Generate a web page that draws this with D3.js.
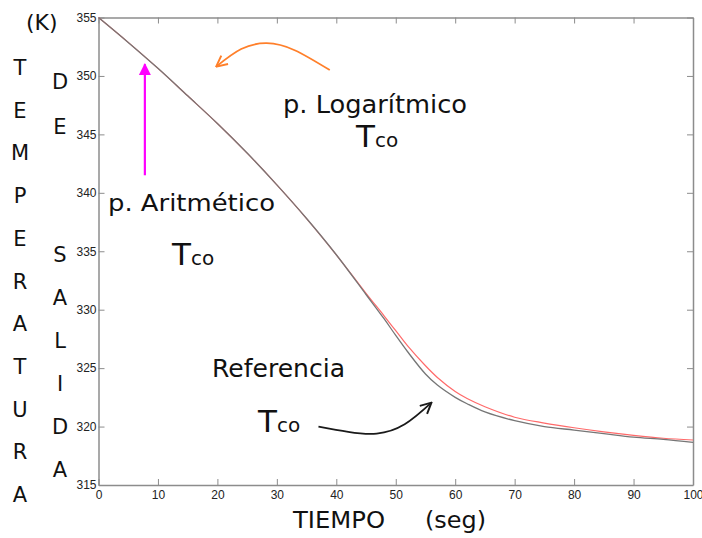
<!DOCTYPE html>
<html>
<head>
<meta charset="utf-8">
<script src="https://cdn.jsdelivr.net/npm/d3@7"></script>
<style>
  body { margin: 0; background: #fff; }
  svg text { font-family: "DejaVu Sans", sans-serif; }
</style>
</head>
<body>
<div id="chart"></div>
<script>
// Time axis (seg) and the two curves
const tiempo = [0, 5, 10, 15, 20, 25, 30, 35, 40, 45, 48, 50, 52, 55, 57, 60, 62, 65, 70, 75, 80, 85, 90, 95, 100];
const referencia = [355.0, 352.87, 350.65, 348.3, 345.93, 343.4, 340.68, 337.8, 334.7, 331.3, 329.25, 327.8, 326.4, 324.5, 323.55, 322.5, 321.95, 321.25, 320.5, 320.0, 319.7, 319.4, 319.1, 318.9, 318.65];
const logaritmico = [355.0, 352.87, 350.65, 348.3, 345.93, 343.4, 340.68, 337.8, 334.7, 331.4, 329.5, 328.2, 326.9, 325.2, 324.2, 323.0, 322.4, 321.7, 320.8, 320.3, 319.9, 319.55, 319.25, 319.0, 318.85];

const xTicks = [0, 10, 20, 30, 40, 50, 60, 70, 80, 90, 100];
const yTicks = [315, 320, 325, 330, 335, 340, 345, 350, 355];

const width = 702, height = 538;
const margin = { top: 17.5, right: 9, bottom: 53, left: 98.5 };

const svg = d3.select("#chart")
  .append("svg")
  .attr("width", width)
  .attr("height", height);

const x = d3.scaleLinear().domain([0, 100]).range([margin.left, width - margin.right]);
const y = d3.scaleLinear().domain([315, 355]).range([height - margin.bottom, margin.top]);

const axisColor = "#8c8c8c";

// Axes with inward ticks on all four sides
const gx = svg.append("g")
  .attr("transform", `translate(0,${y(315)})`)
  .call(d3.axisBottom(x).tickValues(xTicks).tickSizeInner(-6).tickSizeOuter(0).tickPadding(5));
const gxTop = svg.append("g")
  .attr("transform", `translate(0,${y(355)})`)
  .call(d3.axisTop(x).tickValues(xTicks).tickSizeInner(-6).tickSizeOuter(0).tickFormat(""));
const gy = svg.append("g")
  .attr("transform", `translate(${x(0)},0)`)
  .call(d3.axisLeft(y).tickValues(yTicks).tickSizeInner(-6).tickSizeOuter(0).tickPadding(5));
const gyRight = svg.append("g")
  .attr("transform", `translate(${x(100)},0)`)
  .call(d3.axisRight(y).tickValues(yTicks).tickSizeInner(-6).tickSizeOuter(0).tickFormat(""));

[gx, gxTop, gy, gyRight].forEach((g) => {
  g.select(".domain").attr("stroke", axisColor).attr("stroke-width", 1.5);
  g.selectAll(".tick line").attr("stroke", axisColor);
  g.selectAll(".tick text")
    .attr("fill", "#222")
    .style("font-family", "'Liberation Sans', Arial, sans-serif")
    .style("font-size", "12px");
});
gy.selectAll(".tick text").attr("dx", "3");

// Curves
const line = d3.line()
  .x((d, i) => x(tiempo[i]))
  .y((d) => y(d))
  .curve(d3.curveCatmullRom.alpha(0.5));

svg.append("path")
  .datum(logaritmico)
  .attr("fill", "none")
  .attr("stroke", "#ff6a6a")
  .attr("stroke-width", 1.2)
  .attr("d", line);

svg.append("path")
  .datum(referencia)
  .attr("fill", "none")
  .attr("stroke", "#767676")
  .attr("stroke-width", 1.3)
  .attr("d", line);

// Annotation arrows (in data units)
const defs = svg.append("defs");
defs.append("marker")
  .attr("id", "tri")
  .attr("viewBox", "0 0 10 10")
  .attr("refX", 9).attr("refY", 5)
  .attr("markerWidth", 13).attr("markerHeight", 12)
  .attr("markerUnits", "userSpaceOnUse")
  .attr("orient", "auto")
  .append("path").attr("d", "M0,0 L10,5 L0,10 Z").attr("fill", "#ff00ff");

function openHead(id, color) {
  defs.append("marker")
    .attr("id", id)
    .attr("viewBox", "0 0 12 12")
    .attr("refX", 11).attr("refY", 6)
    .attr("markerWidth", 13).attr("markerHeight", 13)
    .attr("markerUnits", "userSpaceOnUse")
    .attr("orient", "auto")
    .append("path")
    .attr("d", "M1,1 L11,6 L1,11")
    .attr("fill", "none")
    .attr("stroke", color)
    .attr("stroke-width", 1.8);
}
openHead("headOrange", "#ff7f2a");
openHead("headBlack", "#1a1a1a");

// magenta straight arrow
const aritArrow = [[7.8, 341.5], [7.8, 351.0]];
svg.append("line")
  .attr("x1", x(aritArrow[0][0])).attr("y1", y(aritArrow[0][1]))
  .attr("x2", x(aritArrow[1][0])).attr("y2", y(aritArrow[1][1]))
  .attr("stroke", "#ff00ff")
  .attr("stroke-width", 2.2)
  .attr("marker-end", "url(#tri)");

const curvedArrow = d3.line().x((d) => x(d[0])).y((d) => y(d[1])).curve(d3.curveNatural);

const logArrow = [[38.9, 350.5], [33, 352.2], [28.3, 352.8], [24, 352.3], [19.8, 350.8]];
svg.append("path")
  .attr("d", curvedArrow(logArrow))
  .attr("fill", "none")
  .attr("stroke", "#ff7f2a")
  .attr("stroke-width", 1.8)
  .attr("marker-end", "url(#headOrange)");

const refArrow = [[37.0, 320.0], [42, 319.55], [46.8, 319.4], [51.5, 320.2], [56.0, 322.05]];
svg.append("path")
  .attr("d", curvedArrow(refArrow))
  .attr("fill", "none")
  .attr("stroke", "#1a1a1a")
  .attr("stroke-width", 1.8)
  .attr("marker-end", "url(#headBlack)");

// Labels inside the plot
function label(txt, px, py, size, len) {
  const t = svg.append("text")
    .attr("x", px).attr("y", py)
    .attr("font-size", size)
    .attr("fill", "#111")
    .text(txt);
  if (len) t.attr("textLength", len).attr("lengthAdjust", "spacingAndGlyphs");
}
function tco(px, py) {
  const t = svg.append("text").attr("x", px).attr("y", py).attr("fill", "#111");
  t.append("tspan").attr("font-size", 31).text("T");
  t.append("tspan").attr("font-size", 20).text("co");
}

label("p. Logarítmico", 283, 113, 24, 184);
tco(356, 147);
label("p. Aritmético", 108, 211, 23.5, 167);
tco(172, 265);
label("Referencia", 212, 377, 24, 133);
tco(258, 432);

// Axis titles
label("(K)", 26, 30, 22);
label("TIEMPO", 293, 528, 23.5, 92);
label("(seg)", 425, 528, 23.5, 61);

const word1 = "TEMPERATURA".split("");
svg.append("g").selectAll("text")
  .data(word1)
  .join("text")
  .attr("x", 20)
  .attr("y", (d, i) => 75 + i * 42.7)
  .attr("text-anchor", "middle")
  .attr("font-size", 21)
  .attr("fill", "#111")
  .text((d) => d);

const word2 = ["D", "E", "", "S", "A", "L", "I", "D", "A"];
const word2Y = [89, 134, 0, 262, 305, 348, 391, 434, 477];
svg.append("g").selectAll("text")
  .data(word2)
  .join("text")
  .attr("x", 60)
  .attr("y", (d, i) => word2Y[i])
  .attr("text-anchor", "middle")
  .attr("font-size", 21)
  .attr("fill", "#111")
  .text((d) => d);
</script>
</body>
</html>
